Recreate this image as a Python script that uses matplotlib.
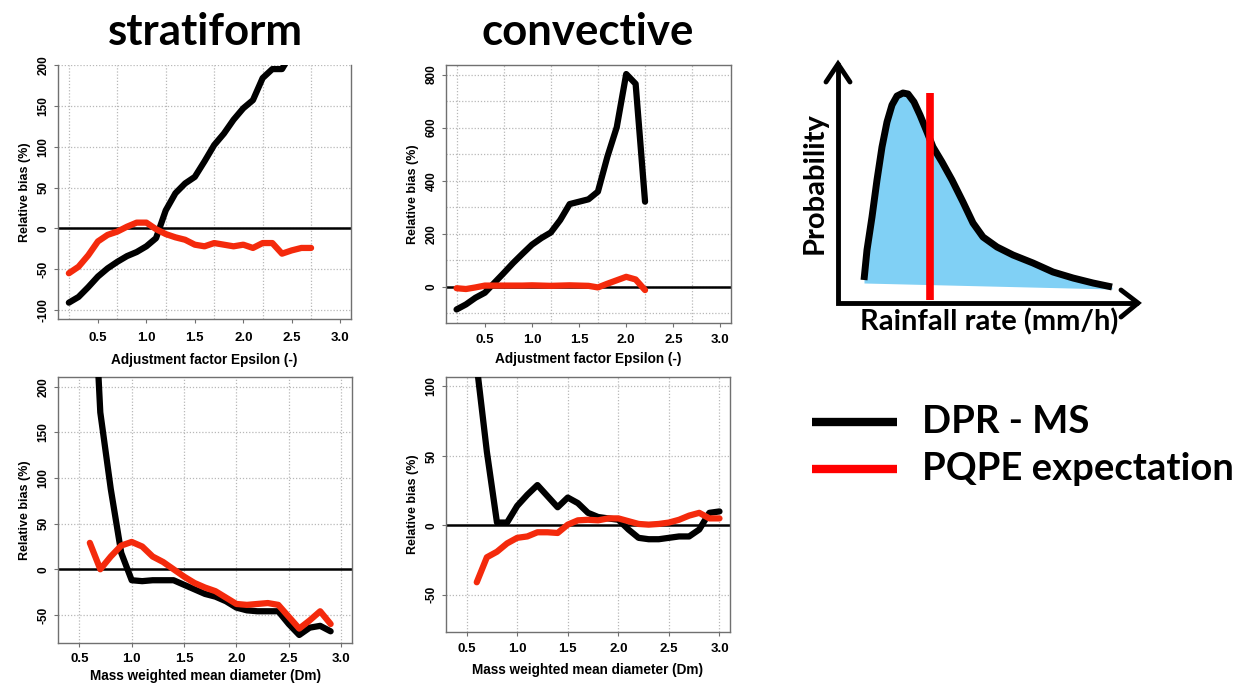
import numpy as np
import matplotlib

matplotlib.use("Agg")

import matplotlib.pyplot as plt

# ---- data ----
# stratiform, relative bias vs adjustment factor epsilon
eps_strat_black = np.round(np.arange(0.2, 2.55, 0.1), 2)
bias_strat_black = [-91, -84, -72, -59, -49, -41, -34, -29, -22, -12, 22, 43,
                    55, 63, 82, 102, 116, 133, 147, 157, 184, 195, 195, 215]
eps_strat_red = np.round(np.arange(0.2, 2.75, 0.1), 2)
bias_strat_red = [-55, -47, -33, -16, -8, -4, 2, 7, 7, -1, -7, -11, -14, -20,
                  -22, -18, -20, -22, -20, -24, -18, -18, -31, -27, -24, -24]

# convective, relative bias vs adjustment factor epsilon
eps_conv = np.round(np.arange(0.2, 2.25, 0.1), 2)
bias_conv_black = [-85, -66, -41, -22, 15, 52, 90, 125, 159, 184, 205, 252,
                   312, 321, 330, 359, 490, 602, 802, 765, 321]
bias_conv_red = [-5, -8, -2, 5, 5, 5, 5, 5, 6, 5, 4, 5, 6, 5, 4, -2, 12, 25,
                 38, 28, -12]

# stratiform, relative bias vs mass weighted mean diameter
dm_strat = np.round(np.arange(0.6, 2.95, 0.1), 2)
dm_strat_black = [400, 172, 88, 18, -12, -13, -12, -12, -12, -17, -22, -27,
                  -30, -35, -42, -45, -46, -46, -46, -60, -72, -64, -62, -68]
dm_strat_red = [29, 0, 14, 26, 30, 25, 14, 8, 0, -8, -15, -20, -24, -31, -38,
                -39, -38, -37, -39, -52, -65, -56, -46, -60]

# convective, relative bias vs mass weighted mean diameter
dm_conv = np.round(np.arange(0.6, 3.05, 0.1), 2)
dm_conv_black = [115, 53, 2, 2, 14, 22, 29, 21, 13, 20, 16, 9, 6, 5, 4, -3,
                 -9, -10, -10, -9, -8, -8, -3, 9, 10]
dm_conv_red = [-41, -23, -19, -13, -9, -8, -5, -5, -5.5, 0.5, 3.6, 4, 3.6, 5,
               5, 3, 1, 0.5, 1, 2, 4, 7, 9, 5, 5]

# schematic rainfall-rate distribution (drawn in pixel units of the slide)
pdf_x = [864, 867, 872, 877, 882, 887, 892, 897, 903, 908, 914, 920, 927,
         933, 942, 952, 963, 973, 983, 997, 1013, 1033, 1053, 1073, 1093,
         1112]
pdf_y = [280, 250, 217, 180, 147, 122, 105, 96, 93, 94, 102, 115, 132, 147,
         162, 180, 202, 223, 237, 247, 255, 263, 272, 278, 283, 287]
expect_x = 930

legend_labels = ["DPR - MS", "PQPE expectation"]

BLACK = "#000000"
RED = "#f42a0c"
GRID = "#b8b8b8"
FRAME = "#707070"
BLUE = "#80d0f5"

W, H = 1247, 688
fig = plt.figure(figsize=(W / 100, H / 100), dpi=100)
fig.patch.set_facecolor("white")

plt.rcParams["font.family"] = ["Liberation Sans", "DejaVu Sans"]


def px_axes(left, top, right, bottom):
    return fig.add_axes([left / W, 1 - bottom / H, (right - left) / W,
                         (bottom - top) / H])


def style_panel(ax, xlim, ylim, xticks, yticks, xgrid, ygrid, xlabel,
                top_spine=True, xpad=6, lpad=7):
    ax.set_xlim(*xlim)
    ax.set_ylim(*ylim)
    for g in xgrid:
        ax.axvline(g, color=GRID, lw=0.9, ls=(0, (1, 1.5)), zorder=0)
    for g in ygrid:
        ax.axhline(g, color=GRID, lw=0.9, ls=(0, (1, 1.5)), zorder=0)
    ax.axhline(0, color=BLACK, lw=1.8, zorder=1)
    ax.set_xticks(xticks)
    ax.set_xticklabels([f"{t:.1f}" for t in xticks], fontsize=9.5)
    ax.set_yticks(yticks)
    ax.set_yticklabels([f"{t:g}" for t in yticks], rotation=90, va="center",
                       fontsize=8.5)
    ax.tick_params(axis="x", length=3, width=0.8, color=FRAME, pad=xpad)
    ax.tick_params(axis="y", length=3, width=0.8, color=FRAME, pad=3)
    for lab in ax.get_xticklabels() + ax.get_yticklabels():
        lab.set_fontweight("bold")
    for s in ax.spines.values():
        s.set_color(FRAME)
        s.set_linewidth(1.0)
    ax.spines["top"].set_visible(top_spine)
    ax.set_xlabel(xlabel, fontsize=9.8, fontweight="bold", labelpad=lpad)
    ax.set_ylabel("Relative bias (%)", fontsize=9, fontweight="bold",
                  labelpad=5)


def curve(ax, x, y, color, lw=4.5, z=3):
    ax.plot(x, y, color=color, lw=lw, solid_capstyle="round",
            solid_joinstyle="round", zorder=z)


eps_grid = np.arange(0.2, 2.75, 0.5)
eps_ticks = np.arange(0.5, 3.05, 0.5)

# panel 1: stratiform / epsilon
ax1 = px_axes(58, 65, 351, 319)
style_panel(ax1, (0.088, 3.112), (-111, 200), eps_ticks,
            np.arange(-100, 201, 50), eps_grid, np.arange(-100, 201, 50),
            "Adjustment factor Epsilon (-)", top_spine=False)
curve(ax1, eps_strat_black, bias_strat_black, BLACK)
curve(ax1, eps_strat_red, bias_strat_red, RED, z=4)

# panel 2: convective / epsilon
ax2 = px_axes(446, 65, 731, 323)
style_panel(ax2, (0.088, 3.112), (-136, 836), eps_ticks,
            np.arange(0, 801, 200), eps_grid, np.arange(-100, 801, 100),
            "Adjustment factor Epsilon (-)", xpad=5, lpad=4)
curve(ax2, eps_conv, bias_conv_black, BLACK)
curve(ax2, eps_conv, bias_conv_red, RED, z=4)

# panel 3: stratiform / Dm
ax3 = px_axes(58, 377, 352, 643)
style_panel(ax3, (0.296, 3.104), (-80.8, 210.8), eps_ticks,
            np.arange(-50, 201, 50), eps_ticks, [-50, 50, 100, 150, 200],
            "Mass weighted mean diameter (Dm)", xpad=4, lpad=3)
curve(ax3, dm_strat, dm_strat_black, BLACK)
curve(ax3, dm_strat, dm_strat_red, RED, z=4)

# panel 4: convective / Dm
ax4 = px_axes(446, 377, 730, 632)
style_panel(ax4, (0.296, 3.104), (-76.8, 106.8), eps_ticks,
            np.arange(-50, 101, 50), eps_ticks, [-50, 50, 100],
            "Mass weighted mean diameter (Dm)", xpad=5, lpad=6)
curve(ax4, dm_conv, dm_conv_black, BLACK)
curve(ax4, dm_conv, dm_conv_red, RED, z=4)

# column titles
title_font = dict(family=["Lato", "DejaVu Sans"], fontweight="bold",
                  fontsize=31.5, ha="center", va="baseline")
fig.text(205 / W, 1 - 45 / H, "stratiform", **title_font)
fig.text(588 / W, 1 - 45 / H, "convective", **title_font)

# schematic + legend, drawn in slide pixel units
axs = px_axes(760, 40, 1247, 520)
axs.set_xlim(760, 1247)
axs.set_ylim(520, 40)
axs.axis("off")

base_y = np.interp(pdf_x, [pdf_x[0], pdf_x[-1]], [283, 289])
axs.fill_between(pdf_x, pdf_y, base_y, color=BLUE, lw=0, zorder=1)
axs.plot(pdf_x, pdf_y, color=BLACK, lw=5, solid_capstyle="butt",
         solid_joinstyle="round", zorder=3)
axs.plot([expect_x, expect_x], [93, 300], color="#ff0000", lw=5.5,
         solid_capstyle="butt", zorder=4)

arrow_kw = dict(color=BLACK, lw=3.5, solid_capstyle="round",
                solid_joinstyle="miter", zorder=5)
axs.plot([838, 838, 1137], [64, 303, 303], **arrow_kw)
axs.plot([826, 838, 850], [82, 64, 82], **arrow_kw)
axs.plot([1121, 1138, 1121], [290, 303, 317], **arrow_kw)

lab_font = dict(family=["Lato", "DejaVu Sans"], fontweight="bold",
                fontsize=21)
axs.text(815, 183, "Probability", rotation=90, ha="center", va="center",
         **lab_font)
axs.text(989, 322, "Rainfall rate (mm/h)", ha="center", va="center",
         **lab_font)

for y, col, lab in zip([422, 469], [BLACK, "#ff0000"], legend_labels):
    axs.plot([812, 897], [y, y], color=col, lw=6, solid_capstyle="butt")
    axs.text(922, y, lab, ha="left", va="center",
             family=["Lato", "DejaVu Sans"], fontweight="bold", fontsize=27.5)

fig.savefig("out.png", dpi=100, facecolor="white")
